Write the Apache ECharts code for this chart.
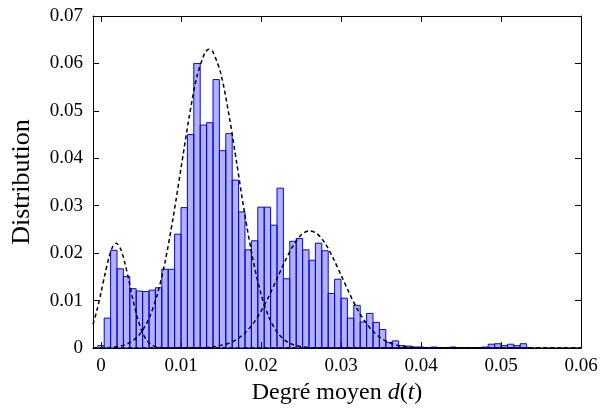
<!DOCTYPE html>
<html>
<head>
<meta charset="utf-8">
<script src="https://cdn.jsdelivr.net/npm/echarts@6/dist/echarts.min.js"></script>
<style>
html,body{margin:0;padding:0;background:#fff;}
#chart{width:605px;height:418px;}
</style>
</head>
<body>
<div id="chart"></div>
<script>
// Histogram: bins of width 0.0008 centred on k*0.0008
const binStart = -0.0004;
const binWidth = 0.0008;
const binHeights = [
  0.0005, 0.0063, 0.0206, 0.0167, 0.0151, 0.0125, 0.0120, 0.0119, 0.0122, 0.0127,
  0.0166, 0.0166, 0.0240, 0.0296, 0.0450, 0.0600, 0.0470, 0.0475, 0.0566, 0.0416,
  0.0452, 0.0354, 0.0287, 0.0207, 0.0226, 0.0297, 0.0297, 0.0259, 0.0337, 0.0146,
  0.0225, 0.0231, 0.0207, 0.0185, 0.0221, 0.0205, 0.0115, 0.0145, 0.0105, 0.0063,
  0.0090, 0.0055, 0.0073, 0.0054, 0.0039, 0.0012, 0.0015, 0.0005, 0.0004, 0.0002,
  0.0002, 0.0001, 0.0002, 0.0001, 0.0001, 0.0002, 0.0001, 0.0001, 0.0001, 0.0001,
  0.0002, 0.0008, 0.0009, 0.0005, 0.0008, 0.0005, 0.0009, 0.0001
];

// Dashed fitted curves
const curve1 = [
  [-0.001,0.0050],[-0.0005,0.0080],[0,0.0117],[0.0005,0.0156],[0.001,0.0191],[0.0015,0.0215],
  [0.0019,0.0221],[0.0025,0.0207],[0.003,0.0178],[0.0035,0.0141],[0.004,0.0101],[0.0045,0.0067],
  [0.005,0.0040],[0.0055,0.0022],[0.006,0.0011],[0.0065,0.0005],[0.007,0.0002],[0.008,0.0000],[0.06,0]
];
const curve2 = [
  [-0.001,0],[0,0.00004],[0.001,0.0001],[0.002,0.00028],[0.003,0.00068],[0.004,0.00155],
  [0.005,0.00323],[0.006,0.00623],[0.007,0.01105],[0.008,0.0181],[0.009,0.0273],[0.010,0.0379],
  [0.011,0.0485],[0.012,0.0573],[0.013,0.0623],[0.0135,0.0630],[0.014,0.0624],[0.015,0.0577],
  [0.016,0.0491],[0.017,0.0386],[0.018,0.0279],[0.019,0.0186],[0.020,0.0114],[0.021,0.00646],
  [0.022,0.00337],[0.023,0.00162],[0.024,0.00072],[0.025,0.00029],[0.026,0.0001],[0.027,0.00004],[0.06,0]
];
const curve3 = [
  [-0.001,0],[0.012,0.00005],[0.014,0.00025],[0.016,0.00102],[0.017,0.00186],[0.018,0.00318],
  [0.019,0.0051],[0.020,0.00772],[0.021,0.01096],[0.022,0.0146],[0.023,0.0183],[0.024,0.0215],
  [0.025,0.0238],[0.026,0.0247],[0.027,0.0241],[0.028,0.0221],[0.029,0.0190],[0.030,0.0154],
  [0.031,0.0117],[0.032,0.0083],[0.033,0.00558],[0.034,0.00351],[0.035,0.00208],[0.036,0.00116],
  [0.037,0.0006],[0.038,0.0003],[0.040,0.00006],[0.042,0],[0.06,0]
];

const xTicks = [0, 0.01, 0.02, 0.03, 0.04, 0.05, 0.06];
const xTickLabels = ['0', '0.01', '0.02', '0.03', '0.04', '0.05', '0.06'];
const yTickLabels = ['0', '0.01', '0.02', '0.03', '0.04', '0.05', '0.06', '0.07'];

const FONT = '"Liberation Serif", "DejaVu Serif", serif';

const histData = binHeights.map((h, k) => [binStart + k * binWidth, binStart + (k + 1) * binWidth, h]);

const chart = echarts.init(document.getElementById('chart'), null, {renderer: 'canvas'});

const axisLineStyle = {show: true, onZero: false, lineStyle: {color: '#000', width: 1}};
const tickStyle = {show: true, inside: true, length: 6, lineStyle: {color: '#000', width: 1}};

chart.setOption({
  animation: false,
  backgroundColor: '#fff',
  grid: {left: 93, right: 24, top: 16, bottom: 70, containLabel: false},
  xAxis: [
    {
      type: 'value', min: -0.001, max: 0.06, position: 'bottom',
      axisLine: axisLineStyle,
      axisTick: Object.assign({}, tickStyle, {customValues: xTicks}),
      axisLabel: {
        customValues: xTicks, margin: 9, color: '#000', fontFamily: FONT, fontSize: 19,
        formatter: v => xTickLabels[xTicks.findIndex(t => Math.abs(t - v) < 1e-9)] || ''
      },
      splitLine: {show: false},
      name: 'Degré moyen {i|d}({i|t})',
      nameLocation: 'middle', nameGap: 31,
      nameTextStyle: {color: '#000', fontFamily: FONT, fontSize: 24,
        rich: {i: {fontStyle: 'italic', fontFamily: FONT, fontSize: 24, color: '#000'}}}
    },
    {
      type: 'value', min: -0.001, max: 0.06, position: 'top',
      axisLine: axisLineStyle,
      axisTick: Object.assign({}, tickStyle, {customValues: xTicks}),
      axisLabel: {show: false},
      splitLine: {show: false}
    }
  ],
  yAxis: [
    {
      type: 'value', min: 0, max: 0.07, interval: 0.01, position: 'left',
      axisLine: axisLineStyle,
      axisTick: tickStyle,
      axisLabel: {
        margin: 10, color: '#000', fontFamily: FONT, fontSize: 19,
        formatter: v => yTickLabels[Math.round(v / 0.01)]
      },
      splitLine: {show: false},
      name: 'Distribution',
      nameLocation: 'middle', nameGap: 58, nameRotate: 90,
      nameTextStyle: {color: '#000', fontFamily: FONT, fontSize: 26}
    },
    {
      type: 'value', min: 0, max: 0.07, interval: 0.01, position: 'right',
      axisLine: axisLineStyle,
      axisTick: tickStyle,
      axisLabel: {show: false},
      splitLine: {show: false}
    }
  ],
  series: [
    {
      type: 'custom',
      xAxisIndex: 0, yAxisIndex: 0,
      data: histData,
      encode: {x: [0, 1], y: 2},
      clip: true,
      z: 2,
      renderItem: function (params, api) {
        const p0 = api.coord([api.value(0), api.value(2)]);
        const p1 = api.coord([api.value(1), 0]);
        return {
          type: 'rect',
          shape: {x: p0[0], y: p0[1], width: p1[0] - p0[0], height: p1[1] - p0[1]},
          style: {fill: 'rgba(0,0,255,0.3)', stroke: '#0000ff', lineWidth: 1}
        };
      }
    },
    {
      type: 'line', data: curve1, smooth: 0.3, showSymbol: false, clip: true, z: 5,
      lineStyle: {color: '#000', width: 1.5, type: [4, 3]}
    },
    {
      type: 'line', data: curve2, smooth: 0.3, showSymbol: false, clip: true, z: 5,
      lineStyle: {color: '#000', width: 1.5, type: [4, 3]}
    },
    {
      type: 'line', data: curve3, smooth: 0.3, showSymbol: false, clip: true, z: 5,
      lineStyle: {color: '#000', width: 1.5, type: [4, 3]}
    }
  ]
});
</script>
</body>
</html>
